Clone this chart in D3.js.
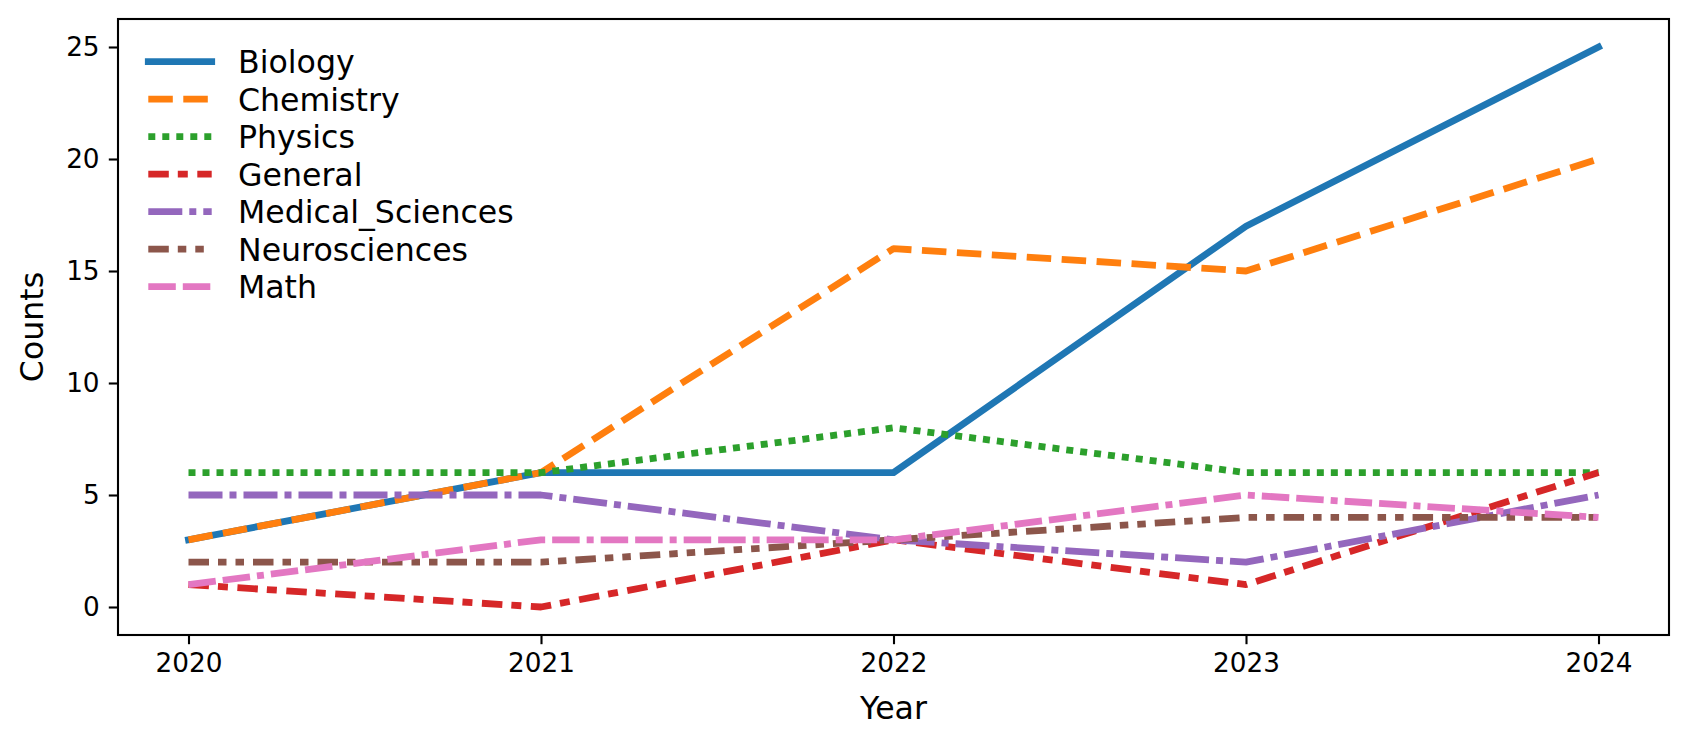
<!DOCTYPE html>
<html>
<head>
<meta charset="utf-8">
<script src="https://cdn.jsdelivr.net/npm/d3@7"></script>
<style>
  html, body { margin: 0; padding: 0; background: #fff; }
  text { font-family: "DejaVu Sans", sans-serif; }
</style>
</head>
<body>
<svg id="chart"></svg>
<script>
// data
const years = [2020, 2021, 2022, 2023, 2024];
const subjects = ['Biology', 'Chemistry', 'Physics', 'General', 'Medical_Sciences', 'Neurosciences', 'Math'];
const biology = [3, 6, 6, 17, 25];
const chemistry = [3, 6, 16, 15, 20];
const physics = [6, 6, 8, 6, 6];
const general = [1, 0, 3, 1, 6];
const medical = [5, 5, 3, 2, 5];
const neuro = [2, 2, 3, 4, 4];
const math = [1, 3, 3, 5, 4];
const yTicks = [0, 5, 10, 15, 20, 25];

const series = [biology, chemistry, physics, general, medical, neuro, math];

// styles
const colors = ['#1f77b4', '#ff7f0e', '#2ca02c', '#d62728', '#9467bd', '#8c564b', '#e377c2'];
const dashes = [
  null,
  '24.5,10.5',
  '7,7',
  '20.5,9,10,9.5',
  '34,7,7,7',
  '20.5,9,8.5,9,8.5,9',
  '27.5,7,27.5,7,7,7'
];

const W = 1688, H = 747;
const margin = { left: 118, right: 1669, top: 19, bottom: 635 };
const lw = 6.8;

const svg = d3.select('#chart')
  .attr('width', W)
  .attr('height', H);

svg.append('rect').attr('width', W).attr('height', H).attr('fill', '#fff');

const x = d3.scaleLinear().domain([2019.8, 2024.2]).range([margin.left, margin.right]);
const y = d3.scaleLinear().domain([-1.25, 26.25]).range([margin.bottom, margin.top]);

const line = d3.line()
  .x((d, i) => x(years[i]))
  .y(d => y(d));

const plot = svg.append('g');

series.forEach((vals, i) => {
  plot.append('path')
    .datum(vals)
    .attr('d', line)
    .attr('fill', 'none')
    .attr('stroke', colors[i])
    .attr('stroke-width', lw)
    .attr('stroke-linejoin', 'round')
    .attr('stroke-linecap', dashes[i] ? 'butt' : 'square')
    .attr('stroke-dasharray', dashes[i]);
});

// axes
const xAxis = svg.append('g')
  .attr('transform', `translate(0,${margin.bottom})`)
  .call(d3.axisBottom(x).tickValues(years).tickFormat(d3.format('d')).tickSize(9.2).tickPadding(9.2));

const yAxis = svg.append('g')
  .attr('transform', `translate(${margin.left},0)`)
  .call(d3.axisLeft(y).tickValues(yTicks).tickSize(9.2).tickPadding(9.2));

[xAxis, yAxis].forEach(g => {
  g.select('.domain').remove();
  g.selectAll('.tick line').attr('stroke', '#000').attr('stroke-width', 2.1);
  g.selectAll('.tick text')
    .attr('fill', '#000')
    .style('font-size', '26.3px')
    .style('font-family', '"DejaVu Sans", sans-serif');
});

// frame
svg.append('rect')
  .attr('x', margin.left).attr('y', margin.top)
  .attr('width', margin.right - margin.left).attr('height', margin.bottom - margin.top)
  .attr('fill', 'none')
  .attr('stroke', '#000')
  .attr('stroke-width', 2.1);

// axis labels
svg.append('text')
  .attr('x', (margin.left + margin.right) / 2)
  .attr('y', 719)
  .attr('text-anchor', 'middle')
  .style('font-size', '31.6px')
  .text('Year');

svg.append('text')
  .attr('transform', `translate(43,${(margin.top + margin.bottom) / 2}) rotate(-90)`)
  .attr('text-anchor', 'middle')
  .style('font-size', '31.6px')
  .text('Counts');

// legend, no frame
const legend = svg.append('g');
subjects.forEach((name, i) => {
  const ly = 61.7 + i * 37.5;
  legend.append('line')
    .attr('x1', 148.3).attr('x2', 211.7)
    .attr('y1', ly).attr('y2', ly)
    .attr('stroke', colors[i])
    .attr('stroke-width', lw)
    .attr('stroke-linecap', dashes[i] ? 'butt' : 'square')
    .attr('stroke-dasharray', dashes[i]);
  legend.append('text')
    .attr('x', 238)
    .attr('y', ly + 11.5)
    .style('font-size', '31.6px')
    .text(name);
});
</script>
</body>
</html>
